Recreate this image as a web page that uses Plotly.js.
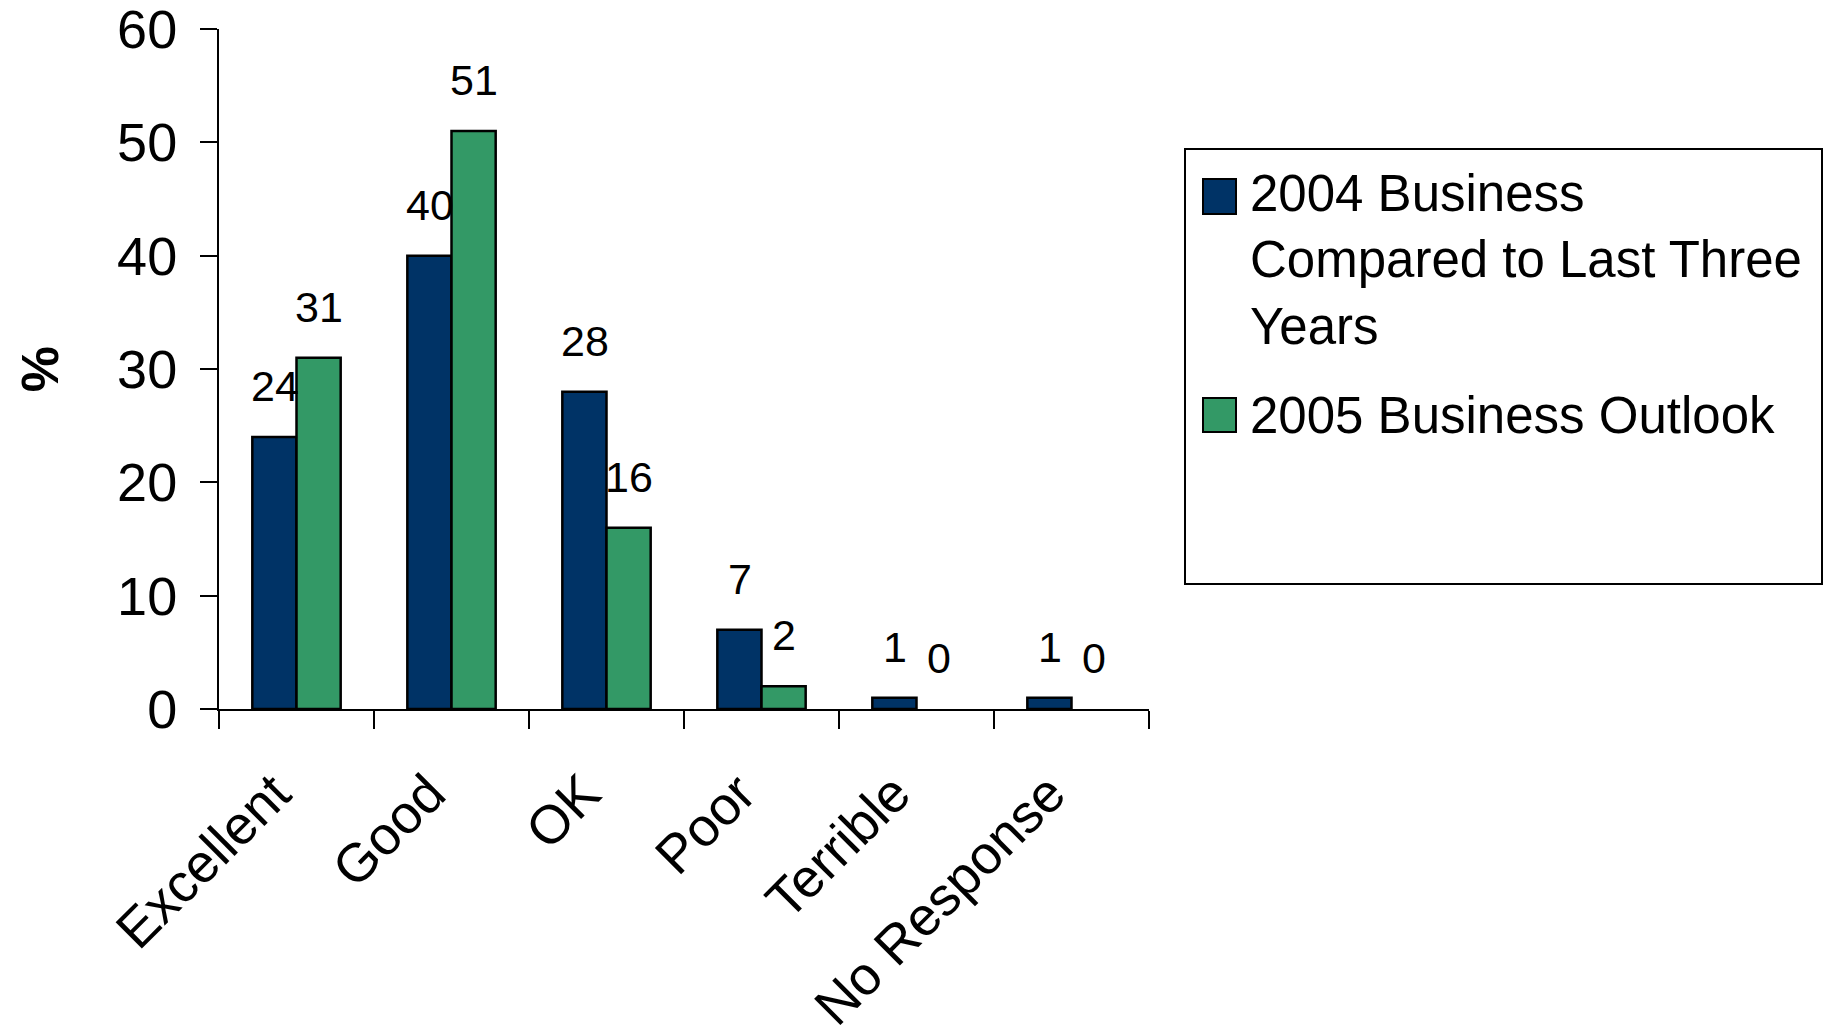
<!DOCTYPE html>
<html>
<head>
<meta charset="utf-8">
<script src="https://cdn.plot.ly/plotly-3.0.1.min.js"></script>
<style>
  html, body { margin: 0; padding: 0; background: #ffffff; }
  #chart { width: 1829px; height: 1035px; }
</style>
</head>
<body>
<div id="chart"></div>
<script>
// Survey responses, percent of respondents
const categories = ['Excellent', 'Good', 'OK', 'Poor', 'Terrible', 'No Response'];
const business2004 = [24, 40, 28, 7, 1, 1];
const outlook2005 = [31, 51, 16, 2, 0, 0];
const seriesNames = ['2004 Business Compared to Last Three Years', '2005 Business Outlook'];
const legendLabels = ['2004 Business<br>Compared to Last Three<br>Years', '2005 Business Outlook'];
const yTicks = [0, 10, 20, 30, 40, 50, 60];

const colors = ['#003366', '#339966'];
const FONT = 'Liberation Sans, Arial, Helvetica, sans-serif';

// plot area in page pixels
const L = 219, R = 1149, T = 29, B = 709;
const W = 1829, H = 1035;
const px = x => (x - L) / (R - L);
const py = y => (B - y) / (B - T);

const series = [business2004, outlook2005];

const traces = series.map((vals, i) => ({
  type: 'bar',
  name: seriesNames[i],
  x: categories,
  y: vals,
  marker: {
    color: colors[i],
    // no outline on empty bars so nothing sits on the axis
    line: { color: '#000000', width: vals.map(v => (v === 0 ? 0 : 2.5)) }
  },
  showlegend: false,
  hoverinfo: 'x+y'
}));

// value labels above each bar
const barHalf = 22;
const annotations = [];
series.forEach((vals, i) => {
  vals.forEach((v, j) => {
    annotations.push({
      x: categories[j], y: v, xref: 'x', yref: 'y',
      xshift: i === 0 ? -barHalf : barHalf,
      yshift: 25,
      yanchor: 'bottom', xanchor: 'center',
      text: String(v), showarrow: false,
      font: { family: FONT, size: 43, color: '#000000' }
    });
  });
});

// legend entries
const legendSym = [[179, 214], [398, 432]];
const legendTextTop = [163, 385];
const shapes = [{
  type: 'rect', xref: 'paper', yref: 'paper',
  x0: px(1185), x1: px(1822), y0: py(584), y1: py(149),
  line: { color: '#000000', width: 2 }, fillcolor: 'rgba(0,0,0,0)'
}];
legendLabels.forEach((lab, i) => {
  shapes.push({
    type: 'rect', xref: 'paper', yref: 'paper',
    x0: px(1203), x1: px(1236), y0: py(legendSym[i][1]), y1: py(legendSym[i][0]),
    line: { color: '#000000', width: 2 }, fillcolor: colors[i]
  });
  annotations.push({
    xref: 'paper', yref: 'paper', x: px(1248), y: py(legendTextTop[i]),
    xanchor: 'left', yanchor: 'top', align: 'left',
    text: lab, showarrow: false,
    font: { family: FONT, size: 51, color: '#000000' }
  });
});

const layout = {
  width: W, height: H,
  margin: { l: L, r: W - R, t: T, b: H - B, pad: 0 },
  paper_bgcolor: '#ffffff', plot_bgcolor: '#ffffff',
  barmode: 'group', bargap: 0.43, bargroupgap: 0,
  font: { family: FONT, color: '#000000' },
  xaxis: {
    type: 'category',
    showgrid: false, zeroline: false,
    showline: true, linecolor: '#000000', linewidth: 2,
    ticks: 'outside', tickson: 'boundaries', ticklen: 18, tickwidth: 2, tickcolor: '#000000',
    tickangle: -45, ticklabelstandoff: 29, ticklabelshift: -22,
    ticklabeloverflow: 'allow',
    tickfont: { family: FONT, size: 54, color: '#000000' }
  },
  yaxis: {
    range: [0, 60], tickvals: yTicks, ticktext: yTicks.map(String),
    showgrid: false, zeroline: false,
    showline: true, linecolor: '#000000', linewidth: 2,
    ticks: 'outside', ticklen: 17, tickwidth: 2, tickcolor: '#000000',
    ticklabelstandoff: 12, ticklabeloverflow: 'allow',
    tickfont: { family: FONT, size: 54, color: '#000000' },
    title: { text: '%', standoff: 42, font: { family: FONT, size: 52, weight: 'bold', color: '#000000' } }
  },
  shapes: shapes,
  annotations: annotations
};

Plotly.newPlot('chart', traces, layout, { displayModeBar: false, staticPlot: true });
</script>
</body>
</html>
